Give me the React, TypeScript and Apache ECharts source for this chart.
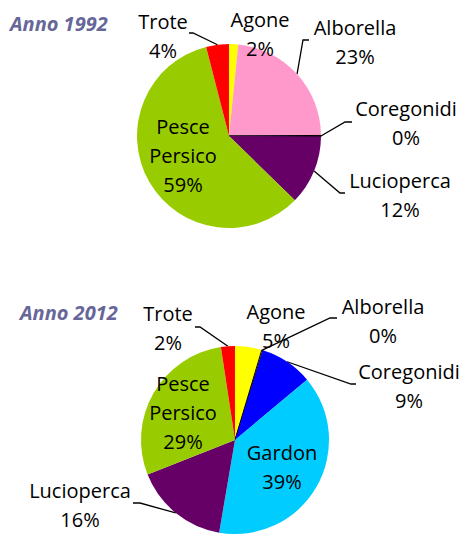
import React, { useEffect, useRef } from 'react';
import * as echarts from 'echarts';

// ---- data ----
const titles = ['Anno 1992', 'Anno 2012'];
const categories1992 = ['Agone', 'Alborella', 'Coregonidi', 'Lucioperca', 'Pesce Persico', 'Trote'];
const values1992 = [1.6, 23.3, 0.2, 12.2, 58.7, 4.0];
const categories2012 = ['Agone', 'Alborella', 'Coregonidi', 'Gardon', 'Lucioperca', 'Pesce Persico', 'Trote'];
const values2012 = [4.6, 0.2, 9.1, 38.8, 16.3, 28.6, 2.4];

// ---- styles / layout ----
const colors: Record<string, string> = {
  Agone: '#ffff00',
  Alborella: '#ff99cc',
  Coregonidi: '#0000ff',
  Gardon: '#00ccff',
  Lucioperca: '#660066',
  'Pesce Persico': '#99cc00',
  Trote: '#ff0000',
};
const FONT = '"Open Sans", sans-serif';

type LabelSpot = { x: number; y: number; inside?: boolean; bend?: [number, number]; end?: [number, number] };

const pies = [
  {
    center: [229, 136],
    radius: 92,
    titlePos: [10, 13],
    labels: {
      Trote: { x: 163, y: 36, bend: [193, 33], end: [189, 33] },
      Agone: { x: 260, y: 34 },
      Alborella: { x: 355, y: 42, bend: [303, 40], end: [309, 40] },
      Coregonidi: { x: 406, y: 123, bend: [345, 122], end: [352, 122] },
      Lucioperca: { x: 400, y: 195, bend: [340, 193], end: [345, 193] },
      'Pesce Persico': { x: 183, y: 155, inside: true },
    } as Record<string, LabelSpot>,
  },
  {
    center: [235, 440],
    radius: 94,
    titlePos: [20, 302],
    labels: {
      Trote: { x: 168, y: 328, bend: [200, 327], end: [195, 327] },
      Agone: { x: 276, y: 326 },
      Alborella: { x: 383, y: 321, bend: [330, 318], end: [337, 318] },
      Coregonidi: { x: 409, y: 386, bend: [351, 384], end: [356, 384] },
      Gardon: { x: 282, y: 467, inside: true },
      Lucioperca: { x: 80, y: 505, bend: [140, 503], end: [133, 503] },
      'Pesce Persico': { x: 183, y: 412, inside: true },
    } as Record<string, LabelSpot>,
  },
];

function edgePoint(values: number[], idx: number, center: number[], r: number): [number, number] {
  const total = values.reduce((a, b) => a + b, 0);
  let before = 0;
  for (let i = 0; i < idx; i++) before += values[i];
  const a = ((before + values[idx] / 2) / total) * Math.PI * 2;
  return [center[0] + r * Math.sin(a), center[1] - r * Math.cos(a)];
}

function buildSeries(cats: string[], vals: number[], cfg: (typeof pies)[number]) {
  return {
    type: 'pie',
    center: cfg.center,
    radius: cfg.radius,
    startAngle: 90,
    clockwise: true,
    avoidLabelOverlap: false,
    animation: false,
    silent: true,
    data: cats.map((c, i) => {
      const spot = cfg.labels[c];
      const tiny = Math.round(vals[i]) === 0;
      return {
        name: c,
        value: vals[i],
        itemStyle: {
          color: colors[c],
          borderColor: tiny ? '#000' : colors[c],
          borderWidth: tiny ? 1 : 0,
        },
        label: { position: spot && spot.inside ? 'inside' : 'outside' },
        labelLine: { show: !!(spot && spot.bend) },
      };
    }),
    label: {
      show: true,
      color: '#000',
      fontFamily: FONT,
      fontSize: 20,
      lineHeight: 29,
      align: 'center',
      formatter: (p: any) => `${String(p.name).replace(' ', '\n')}\n${Math.round(p.percent)}%`,
    },
    labelLine: {
      show: true,
      lineStyle: { color: '#000', width: 1.3 },
    },
    labelLayout: (p: any) => {
      const name = cats[p.dataIndex];
      const spot = cfg.labels[name];
      if (!spot) return {};
      const out: any = { x: spot.x, y: spot.y, align: 'center', verticalAlign: 'middle' };
      if (spot.bend && spot.end) {
        out.labelLinePoints = [edgePoint(vals, p.dataIndex, cfg.center, cfg.radius), spot.bend, spot.end];
      }
      return out;
    },
  };
}

export default function App() {
  const ref = useRef<HTMLDivElement>(null);
  useEffect(() => {
    if (!ref.current) return;
    const chart = echarts.init(ref.current, undefined, { renderer: 'svg' });
    chart.setOption({
      animation: false,
      backgroundColor: '#ffffff',
      title: titles.map((t, i) => ({
        text: t,
        left: pies[i].titlePos[0],
        top: pies[i].titlePos[1],
        padding: 0,
        textStyle: {
          fontFamily: FONT,
          fontStyle: 'italic',
          fontWeight: 'bold',
          fontSize: 20,
          color: '#666699',
        },
      })),
      series: [
        buildSeries(categories1992, values1992, pies[0]),
        buildSeries(categories2012, values2012, pies[1]),
      ],
    });
    return () => chart.dispose();
  }, []);
  return (
    <div
      ref={ref}
      style={{ position: 'fixed', left: 0, top: 0, width: 461, height: 534, background: '#fff' }}
    />
  );
}
